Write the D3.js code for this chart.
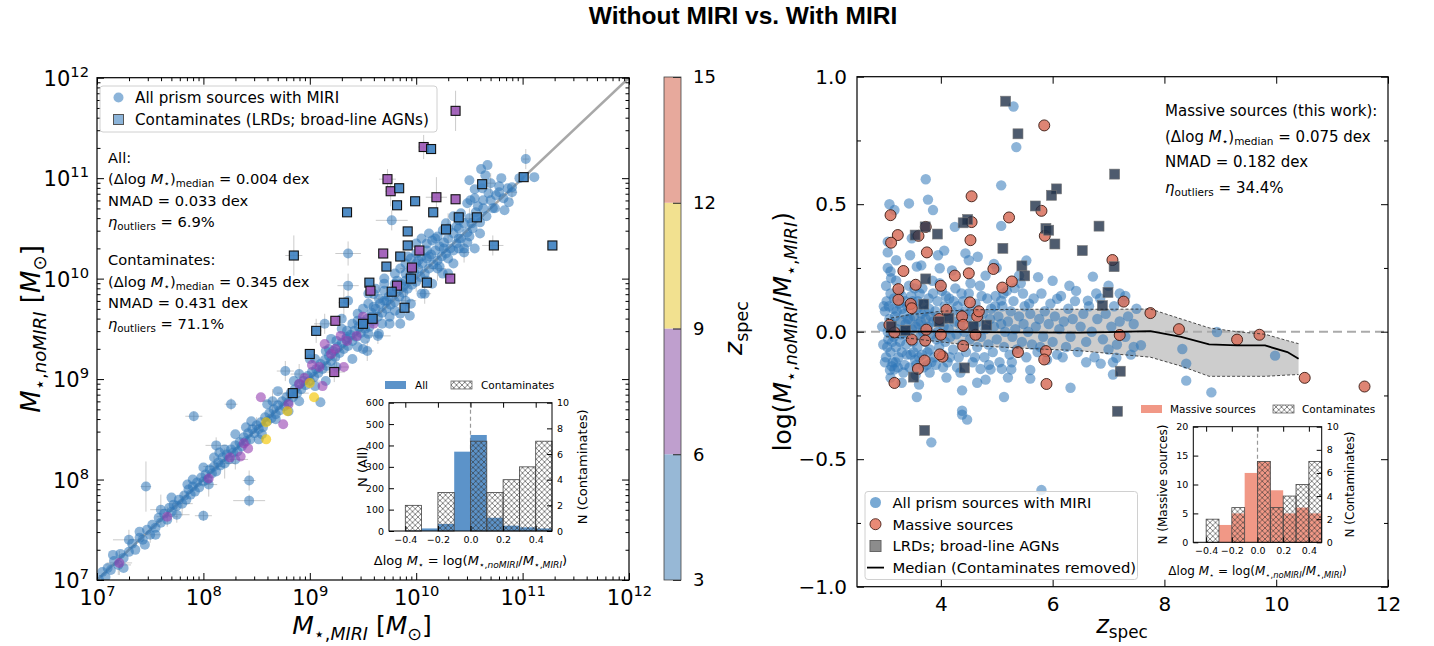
<!DOCTYPE html>
<html><head><meta charset="utf-8">
<script src="https://cdn.jsdelivr.net/npm/d3@7/dist/d3.min.js"></script>
<style>
body{margin:0;background:#fff;}
svg text{font-family:"DejaVu Sans",sans-serif;fill:#000;}
</style></head><body>
<svg id="chart" width="1434" height="646"></svg>
<script>
// ======================= DATA =======================
const titleText = "Without MIRI vs. With MIRI";
// Left panel: log10 stellar masses [log M_MIRI, log M_noMIRI]
const leftMajorTicks = [1e7, 1e8, 1e9, 1e10, 1e11, 1e12];
const leftBlue = [
[7.02,7.0],[7.05,7.08],[7.08,7.03],[7.1,7.12],[7.13,7.1],[7.16,7.19],[7.2,7.15],[7.22,7.26],[7.25,7.22],[7.3,7.28],
[7.33,7.36],[7.36,7.3],[7.4,7.42],[7.43,7.4],[7.47,7.5],[7.5,7.45],[7.52,7.55],[7.55,7.52],[7.58,7.62],[7.6,7.57],
[7.63,7.66],[7.66,7.6],[7.68,7.72],[7.7,7.68],[7.72,7.75],[7.75,7.74],[7.77,7.8],[7.8,7.76],[7.82,7.84],[7.84,7.8],
[7.86,7.9],[7.88,7.85],[7.9,7.93],[7.92,7.88],[7.94,7.97],[7.96,7.92],[7.98,8.02],[8.0,7.98],[8.02,8.05],[8.04,8.0],
[8.06,8.1],[8.08,8.06],[8.1,8.13],[8.12,8.08],[8.14,8.17],[8.16,8.14],[8.18,8.22],[8.2,8.16],[8.22,8.25],[8.24,8.2],
[8.26,8.3],[8.28,8.27],[8.3,8.34],[8.32,8.28],[8.34,8.37],[8.36,8.33],[8.38,8.42],[8.4,8.38],[8.42,8.46],[8.44,8.4],
[8.46,8.5],[8.48,8.46],[8.5,8.54],[8.52,8.5],[8.54,8.57],[8.56,8.52],[8.58,8.62],[8.6,8.58],[8.62,8.66],[8.64,8.61],
[8.66,8.7],[8.68,8.65],[8.7,8.74],[8.72,8.69],[8.74,8.78],[8.76,8.73],[8.78,8.82],[8.8,8.77],[8.82,8.86],[8.84,8.82],
[8.86,8.9],[8.88,8.86],[8.9,8.95],[8.92,8.9],[8.94,8.98],[8.96,8.94],[8.98,9.03],[9.0,8.98],[9.02,9.07],[9.04,9.02],
[9.06,9.1],[9.08,9.06],[9.1,9.15],[9.12,9.1],[9.14,9.19],[9.16,9.13],[9.18,9.23],[9.2,9.18],[9.22,9.28],[9.24,9.22],
[9.26,9.32],[9.28,9.26],[9.3,9.36],[9.32,9.3],[9.34,9.4],[9.36,9.33],[9.38,9.44],[9.4,9.38],[9.42,9.48],[9.44,9.42],
[9.46,9.52],[9.48,9.46],[9.5,9.57],[9.52,9.5],[9.54,9.6],[9.56,9.52],[9.58,9.66],[9.6,9.58],[9.62,9.7],[9.64,9.62],
[9.66,9.75],[9.68,9.66],[9.7,9.78],[9.72,9.7],[9.74,9.82],[9.76,9.74],[9.78,9.86],[9.8,9.77],[9.82,9.9],[9.84,9.82],
[9.86,9.95],[9.88,9.86],[9.9,9.98],[9.92,9.9],[9.94,10.02],[9.96,9.94],[9.98,10.06],[10.0,9.97],[10.02,10.1],[10.04,10.02],
[10.06,10.15],[10.08,10.05],[10.1,10.2],[10.12,10.1],[10.14,10.24],[10.16,10.14],[10.18,10.28],[10.2,10.18],[10.22,10.32],[10.24,10.22],
[10.26,10.36],[10.28,10.25],[10.3,10.4],[10.32,10.3],[10.35,10.45],[10.38,10.35],[10.4,10.5],[10.42,10.4],[10.45,10.55],[10.48,10.46],
[10.5,10.6],[10.53,10.5],[10.56,10.66],[10.6,10.56],[10.63,10.7],[10.66,10.62],[10.7,10.78],[10.74,10.7],[10.78,10.86],[10.82,10.8],
[10.86,10.9],[10.9,10.86],
[9.6,9.85],[9.7,9.95],[9.65,9.45],[9.75,9.55],[9.8,10.05],[9.85,9.65],[9.9,10.15],[9.95,9.75],[10.0,10.25],[10.05,9.85],
[10.1,10.35],[10.15,9.95],[10.2,10.42],[10.25,10.05],[10.3,10.5],[10.35,10.15],[10.4,10.58],[10.45,10.3],[10.5,10.42],[10.55,10.8],
[10.6,10.45],[9.55,9.75],[9.45,9.65],[9.4,9.2],[9.5,9.3],[9.3,9.5],[9.2,9.4],[9.85,10.1],[10.05,10.4],[10.12,10.45],
[10.0,10.35],[9.7,10.0],[9.3,9.6],[9.55,9.85],[9.85,9.55],[10.3,10.05],[10.55,10.3],[10.35,10.62],[10.48,10.75],[10.62,10.9],
[10.7,10.95],[10.8,11.0],[10.5,10.98],
[11.03,11.19],[11.11,11.01],[10.67,11.13],[10.61,11.09],[10.65,11.03],[10.75,10.83],[10.87,10.76],[10.83,10.68],[10.72,10.70],[10.90,10.91],
[10.97,11.0],[10.55,10.89],[10.51,10.78],[10.63,10.78],[9.77,10.58],[9.36,10.25],[9.36,9.93],[9.36,9.78],[10.45,10.26],[10.08,9.85],
[9.94,9.63],[9.64,9.43],[9.54,9.28],[9.14,9.55],[8.77,9.08],[8.26,8.75],[7.91,8.63],[8.12,8.34],[8.43,7.99],[7.46,7.93],
[8.43,7.79],[8.0,7.64],[9.10,8.77],[8.6,8.75],[8.3,8.45],[8.9,8.78],[9.0,9.2],[9.15,8.98],[8.7,8.88],[8.1,8.22],
[7.3,7.4],[7.45,7.35],[7.6,7.7],[7.75,7.65],[7.9,8.0],[8.05,7.95],[8.15,8.27],[8.3,8.2],[8.4,8.52],[8.55,8.45],
[8.65,8.78],[8.8,8.68],[8.9,9.05],[9.05,8.93],[9.15,9.28],[9.25,9.12],[9.35,9.48],[9.45,9.32],[9.55,9.45],[9.65,9.8],
[9.75,9.62],[9.9,9.78],[10.0,10.15],[10.1,9.98],[10.2,10.1],[10.3,10.2],[10.4,10.3],[10.1,10.28],[9.95,10.1],[9.8,9.95],
[10.25,10.48],[10.38,10.52],[10.15,10.38],[9.9,10.05],[9.6,9.72],[9.45,9.58],[9.25,9.38],[9.05,9.2],[8.85,8.98],[8.68,8.6],
[8.45,8.58],[8.52,8.4],[8.2,8.3],[8.0,8.12],[7.85,7.95],[7.7,7.82],[7.55,7.45],[7.4,7.48],[7.15,7.25],[7.25,7.12],
[9.7,9.88],[9.8,9.68],[9.95,10.2],[10.05,10.22],[10.18,10.4],[10.28,10.55],[10.42,10.65],[10.58,10.72],[10.68,10.85],[10.78,10.92],
[9.62,9.9],[9.5,9.7],[9.4,9.55],[9.52,9.4],[9.68,9.55],[9.82,9.98],[9.92,10.22],[10.22,10.12],[10.35,10.28],[10.48,10.36],
[9.58,9.62],[9.72,9.78],[9.88,9.92],[10.02,10.18],[10.12,10.22],[10.26,10.3],[10.4,10.4],[10.52,10.55],[9.35,9.42],[9.18,9.3]
];
const leftPurple = [
[8.54,8.82],[7.66,7.63],[7.21,7.17],[9.14,9.35],[9.29,9.43],[9.44,9.43],[9.24,9.30],[9.02,9.14],[8.95,9.01],[9.12,8.93],
[9.09,9.12],[8.75,8.55],[8.38,8.36],[8.42,8.31],[8.25,8.22],[8.35,8.23],[8.05,8.01],[9.32,9.12],[9.2,9.25],[9.35,9.38],
[8.9,8.95],[8.8,8.75],[9.5,9.62],[9.6,9.55]
];
const leftYellow = [[9.04,8.82],[9.0,8.96],[8.79,8.68],[8.59,8.57],[8.59,8.40]];
// contaminates: [log M_MIRI, log M_noMIRI, zbin] (0: z 3-6, 1: z 6-9)
const leftContam = [
[10.37,11.67,1],[10.07,11.31,1],[10.14,11.29,0],[9.73,10.99,1],[9.76,10.87,1],[9.84,10.90,0],[9.35,10.66,0],[9.82,10.73,0],
[9.99,10.77,0],[10.19,10.81,1],[10.37,10.79,1],[10.16,10.66,0],[10.40,10.61,0],[10.57,10.61,0],[10.62,10.94,0],[11.01,11.01,0],
[10.73,10.33,0],[11.28,10.33,0],[9.92,10.47,0],[10.28,10.49,0],[9.92,10.33,0],[10.03,10.28,1],[9.69,10.25,1],[9.85,10.22,0],
[8.85,10.23,0],[9.72,10.12,0],[9.96,10.11,1],[9.95,10.0,0],[10.32,10.0,1],[10.10,9.96,0],[9.82,9.93,1],[9.56,9.96,0],
[9.57,9.88,1],[9.77,9.87,0],[9.89,9.71,0],[9.32,9.76,0],[9.24,9.58,1],[9.59,9.60,0],[9.50,9.55,0],[9.06,9.48,0],
[9.00,9.25,0],[9.23,9.07,1],[8.84,8.86,0]
];
// error bars: [log x, log y, x err (dex), y err (dex)]
const leftErr = [
[10.37,11.67,0.03,0.2],[10.07,11.31,0.05,0.12],[9.73,10.99,0.08,0.1],[9.76,10.87,0.05,0.15],[8.85,10.23,0.08,0.2],
[9.36,10.25,0.12,0.12],[9.36,9.93,0.1,0.12],[9.77,10.58,0.15,0.1],[10.19,10.81,0.1,0.2],[7.46,7.93,0.05,0.25],
[7.91,8.63,0.08,0.05],[8.26,8.75,0.06,0.06],[8.43,7.79,0.15,0.06],[8.43,7.99,0.06,0.1],[8.12,8.34,0.1,0.08],
[8.0,7.64,0.08,0.05],[9.54,9.28,0.06,0.1],[9.64,9.43,0.12,0.08],[9.14,9.55,0.1,0.1],[8.77,9.08,0.08,0.1],
[7.2,7.15,0.12,0.1],[7.5,7.45,0.1,0.08],[7.8,7.76,0.1,0.12],[8.1,8.13,0.1,0.1],[8.5,8.54,0.08,0.08],
[8.2,8.16,0.1,0.15],[9.0,8.98,0.1,0.08],[9.5,9.57,0.08,0.1],[10.0,9.97,0.08,0.1],[10.5,10.6,0.05,0.1],
[10.45,10.26,0.05,0.1],[10.08,9.85,0.06,0.1],[8.84,8.86,0.15,0.05],[9.23,9.07,0.1,0.1],[11.03,11.19,0.03,0.1],
[10.72,10.33,0.1,0.1],[7.66,7.63,0.1,0.1],[7.21,7.17,0.12,0.12],[9.06,9.48,0.05,0.12],[9.32,9.76,0.05,0.15],
[7.3,7.4,0.15,0.1],[7.6,7.7,0.1,0.15],[7.75,7.65,0.12,0.08],[8.05,7.95,0.08,0.12],[8.3,8.2,0.12,0.1],
[8.65,8.78,0.1,0.12],[8.9,9.05,0.08,0.1],[9.25,9.12,0.12,0.1],[9.65,9.8,0.08,0.12],[9.9,9.78,0.1,0.1],
[10.2,10.1,0.08,0.12],[10.3,10.5,0.06,0.15],[9.95,10.1,0.1,0.1],[10.7,10.95,0.05,0.1],[10.9,10.86,0.05,0.08]
];
// colorbar (z_spec)
const cbEdges = [3, 6, 9, 12, 15];
const cbColors = ["#97b8d6", "#bf9fce", "#f2e190", "#e7a99c"];
const cbTicks = [3, 6, 9, 12, 15];

// Left inset histogram
const histEdges = [-0.4,-0.3,-0.2,-0.1,0.0,0.1,0.2,0.3,0.4,0.5];
const histAll = [2, 12, 33, 371, 449, 62, 25, 17, 12];
const histContam = [2, 0, 3, 0, 7, 3, 4, 5, 7];
const insetXTicks = [-0.4,-0.2,0.0,0.2,0.4];
const insetAllTicks = [0,100,200,300,400,500,600];
const insetContTicks = [0,2,4,6,8,10];
// Right inset histogram
const histMassive = [0, 3, 5, 12, 14, 9, 5, 6, 5];
const histContamR = [2, 0, 3, 0, 7, 3, 4, 5, 7];
const insetMassTicks = [0,5,10,15,20];

// Right panel: [z_spec, delta log M]
const rightXTicks = [4, 6, 8, 10, 12];
const rightYTicks = [-1.0, -0.5, 0.0, 0.5, 1.0];
const rightBlue = [
[2.95,0.02],[2.97,-0.05],[3.0,0.08],[3.02,-0.1],[3.03,0.12],[3.05,0.0],[3.06,-0.03],[3.08,0.05],[3.1,-0.08],[3.1,0.15],
[3.12,0.03],[3.14,-0.12],[3.15,0.09],[3.16,-0.02],[3.18,0.06],[3.2,-0.06],[3.2,0.2],[3.22,0.01],[3.24,-0.1],[3.25,0.11],
[3.27,-0.04],[3.28,0.04],[3.3,0.14],[3.3,-0.08],[3.32,0.0],[3.34,0.07],[3.35,-0.13],[3.37,0.03],[3.38,-0.05],[3.4,0.1],
[3.42,-0.02],[3.43,0.18],[3.45,0.05],[3.46,-0.09],[3.48,0.01],[3.5,0.12],[3.5,-0.04],[3.52,0.06],[3.54,-0.11],[3.55,0.02],
[3.57,0.09],[3.58,-0.06],[3.6,0.03],[3.62,0.15],[3.63,-0.02],[3.65,0.07],[3.66,-0.09],[3.68,0.0],[3.7,0.11],[3.72,-0.04],
[3.73,0.05],[3.75,-0.13],[3.77,0.02],[3.78,0.13],[3.8,-0.07],[3.82,0.06],[3.84,-0.01],[3.85,0.2],[3.87,0.04],[3.88,-0.1],
[3.9,0.08],[3.92,-0.03],[3.94,0.12],[3.95,0.0],[3.97,-0.06],[4.0,0.05],[4.02,0.16],[4.03,-0.09],[4.05,0.02],[4.07,0.1],
[4.08,-0.04],[4.1,0.06],[4.12,-0.12],[4.14,0.01],[4.15,0.13],[4.17,-0.02],[4.2,0.08],[4.22,-0.07],[4.24,0.04],[4.26,0.17],
[4.28,-0.01],[4.3,0.1],[4.32,-0.1],[4.34,0.03],[4.36,0.07],[4.38,-0.05],[4.4,0.12],[4.42,0.0],[4.45,-0.08],[4.47,0.05],
[4.5,0.15],[4.52,-0.03],[4.55,0.08],[4.57,-0.12],[4.6,0.02],[4.62,0.11],[4.65,-0.06],[4.68,0.04],[4.7,0.18],[4.72,-0.02],
[4.75,0.07],[4.78,-0.1],[4.8,0.01],[4.83,0.13],[4.85,-0.05],[4.88,0.05],[4.9,0.09],[4.93,-0.08],[4.95,0.02],[4.98,0.14],
[5.0,-0.03],[5.03,0.06],[5.05,-0.12],[5.08,0.03],[5.1,0.1],[5.13,-0.06],[5.15,0.0],[5.18,0.16],[5.2,0.04],[5.23,-0.09],
[5.25,0.08],[5.28,-0.02],[5.3,0.12],[5.33,0.01],[5.36,-0.07],[5.4,0.06],[5.43,0.19],[5.45,-0.04],[5.48,0.03],[5.5,0.1],
[5.53,-0.1],[5.56,0.0],[5.6,0.07],[5.63,-0.05],[5.66,0.13],[5.7,0.02],[5.73,-0.08],[5.76,0.05],[5.8,0.15],[5.83,-0.02],
[5.86,0.08],[5.9,-0.11],[5.93,0.03],[5.96,0.11],[6.0,-0.04],[6.04,0.06],[6.08,-0.09],[6.12,0.01],[6.15,0.14],[6.2,0.04],
[6.24,-0.06],[6.28,0.09],[6.32,-0.02],[6.36,0.05],[6.4,0.12],[6.45,-0.08],[6.5,0.02],[6.55,0.07],[6.6,-0.04],[6.65,0.1],
[6.7,0.0],[6.75,-0.1],[6.8,0.05],[6.85,0.13],[6.9,-0.03],[6.95,0.07],[7.0,-0.07],[7.05,0.02],[7.1,0.1],[7.15,-0.05],
[7.2,0.04],[7.25,0.12],[7.3,-0.02],[7.35,0.06],[7.4,-0.09],[7.45,0.03],[7.5,0.09],
[3.05,0.25],[3.1,-0.18],[3.2,0.28],[3.3,-0.2],[3.45,0.3],[3.55,-0.17],[3.65,0.26],[3.8,-0.16],[3.95,0.3],[4.1,-0.18],
[4.2,0.24],[4.35,-0.16],[4.5,0.28],[4.65,-0.2],[4.8,0.22],[5.0,0.25],[5.2,-0.18],[5.4,0.22],[5.6,-0.15],[6.0,0.2],
[6.3,0.18],[6.6,-0.12],[7.0,0.18],[7.2,0.15],
[2.98,0.1],[3.0,-0.12],[3.02,0.18],[3.04,-0.06],[3.07,0.1],[3.09,-0.15],[3.11,0.21],[3.13,-0.04],[3.16,0.13],[3.19,-0.12],
[3.21,0.08],[3.23,-0.14],[3.26,0.16],[3.29,-0.01],[3.31,0.09],[3.33,-0.16],[3.36,0.12],[3.39,-0.09],[3.41,0.05],[3.44,-0.14],
[3.47,0.14],[3.51,-0.08],[3.53,0.17],[3.56,-0.13],[3.59,0.12],[3.61,-0.1],[3.64,0.04],[3.67,0.17],[3.69,-0.14],[3.71,0.08],
[3.76,-0.08],[3.79,0.09],[3.83,-0.12],[3.86,0.15],[3.91,-0.13],[3.93,0.04],[3.98,0.19],[4.04,-0.14],[4.09,0.14],[4.16,-0.1],
[4.23,0.12],[4.29,-0.14],[4.37,0.15],[4.44,0.08],[4.53,0.19],[4.61,-0.1],[4.73,0.14],[4.86,-0.13],[4.97,0.1],[5.12,0.15],
[5.27,-0.12],[5.47,0.15],[5.58,0.11],[5.78,-0.06],[6.18,-0.1],[6.42,0.16],[6.78,0.15],[7.08,-0.12],
[5.30,0.883],[5.35,0.724],[3.73,0.598],[5.08,0.574],[3.08,0.50],[3.43,0.503],[3.17,0.477],[3.77,0.518],[3.86,0.477],[4.25,0.411],
[5.08,0.415],[3.05,0.353],[3.05,0.311],[4.06,0.318],[4.44,0.307],[4.66,0.294],[3.48,0.366],[4.95,0.266],[5.53,0.279],[6.72,0.216],
[5.74,0.214],[3.10,0.236],[3.98,0.249],[3.57,0.255],[5.32,0.171],[6.08,0.129],[6.63,0.122],[5.08,0.122],[7.58,-0.053],[8.32,-0.068],
[8.94,-0.001],[9.98,-0.094],[8.39,-0.125],[8.39,-0.192],[8.84,-0.238],[6.32,-0.220],[5.13,-0.256],[4.38,-0.230],[4.38,-0.310],[4.38,-0.325],
[4.47,-0.345],[3.57,-0.256],[3.83,-0.434],[5.80,-0.621],[5.60,-0.184],[6.86,-0.125],[7.14,-0.102],[7.08,-0.168],[3.12,-0.135],[3.17,-0.148],
[3.61,-0.207],[4.71,-0.146],[4.89,-0.148],[5.09,-0.146],[5.26,-0.148],[4.80,-0.188],[7.3,0.14],[7.45,-0.06]
];
const rightMassive = [
[5.85,0.809],[4.55,0.531],[3.10,0.457],[5.22,0.448],[5.80,0.474],[4.55,0.430],[3.73,0.411],[3.23,0.379],[3.60,0.376],[3.11,0.349],
[4.53,0.359],[5.86,0.376],[3.75,0.311],[7.07,0.281],[3.33,0.238],[4.25,0.220],[4.50,0.229],[4.94,0.246],[5.27,0.197],[5.10,0.173],
[3.55,0.184],[4.0,0.18],[3.24,0.167],[3.24,0.125],[3.46,0.109],[3.48,0.092],[4.52,0.115],[7.27,0.118],[7.75,0.073],[8.26,0.01],
[9.30,-0.031],[9.70,-0.012],[7.20,-0.013],[4.10,0.086],[3.97,0.05],[4.38,0.06],[4.65,0.06],[4.68,0.08],[4.40,0.027],[3.08,0.027],
[3.17,-0.003],[3.74,0.008],[4.0,-0.012],[4.62,-0.012],[3.48,-0.031],[3.72,-0.035],[4.40,-0.056],[5.38,-0.080],[5.88,-0.076],[5.85,-0.109],
[3.71,-0.113],[4.03,-0.098],[3.98,-0.089],[3.59,-0.146],[3.17,-0.201],[5.89,-0.205],[10.51,-0.181],[11.58,-0.215]
];
const rightContam = [
[5.16,0.904],[5.38,0.776],[7.11,0.618],[6.07,0.560],[5.98,0.535],[5.69,0.493],[6.83,0.414],[4.48,0.44],[4.40,0.427],[3.72,0.411],
[3.94,0.383],[3.54,0.379],[5.88,0.405],[5.93,0.398],[6.04,0.344],[5.11,0.327],[6.53,0.318],[5.45,0.258],[5.50,0.219],[7.10,0.255],
[3.73,0.207],[6.99,0.154],[3.69,0.108],[6.89,0.102],[4.14,0.053],[4.82,0.026],[4.58,0.021],[3.37,0.005],[3.11,0.021],[3.97,0.04],
[4.42,-0.142],[3.51,-0.178],[7.21,-0.155],[7.16,-0.312],[3.71,-0.387]
];
// running median (contaminates removed) and 16-84 band
const medZ    = [3.02, 3.4, 4.0, 4.6, 5.5, 6.5, 7.0, 7.75, 8.3, 8.8, 9.3, 9.8, 10.2, 10.4];
const medVal  = [0.0, 0.0, 0.0, -0.002, -0.003, -0.004, -0.002, 0.002, -0.02, -0.05, -0.054, -0.054, -0.08, -0.106];
const medHigh = [0.05, 0.065, 0.08, 0.086, 0.088, 0.088, 0.088, 0.089, 0.05, 0.015, 0.0, -0.01, -0.035, -0.047];
const medLow  = [-0.02, -0.025, -0.04, -0.055, -0.065, -0.075, -0.085, -0.10, -0.135, -0.175, -0.175, -0.175, -0.17, -0.168];

// ======================= DRAWING =======================
const svg = d3.select("#chart");
const FONT = "DejaVu Sans";
const defs = svg.append("defs");

function rich(sel, parts, fs) {
  let cur = 0;
  parts.forEach(([t, k]) => {
    const sub = k.includes("sub"), sup = k.includes("sup");
    const target = sub ? fs * 0.22 : sup ? -fs * 0.42 : 0;
    sel.append("tspan").attr("dy", (target - cur).toFixed(2))
      .attr("font-size", (sub || sup) ? fs * 0.7 : fs)
      .attr("font-style", k.startsWith("i") ? "italic" : "normal")
      .text(t);
    cur = target;
  });
  return sel;
}

// hatch pattern
const hp = defs.append("pattern").attr("id", "hatch").attr("patternUnits", "userSpaceOnUse")
  .attr("width", 5.5).attr("height", 5.5);
hp.append("path").attr("d", "M0,0L5.5,5.5M0,5.5L5.5,0M-1,1L1,-1M4.5,6.5L6.5,4.5M-1,4.5L1,6.5M4.5,-1L6.5,1")
  .attr("stroke", "#333").attr("stroke-width", 0.6).attr("fill", "none");

// Title
svg.append("text").attr("x", 743).attr("y", 24).attr("text-anchor", "middle")
  .style("font-family", "Liberation Sans, Arial, sans-serif").attr("font-weight", "bold").attr("font-size", 24.5)
  .text(titleText);

// ---------- LEFT PANEL ----------
const L = {x0: 97, x1: 629, y0: 77.7, y1: 580};
const xL = d3.scaleLog().domain([1e7, 1e12]).range([L.x0, L.x1]);
const yL = d3.scaleLog().domain([1e7, 1e12]).range([L.y1, L.y0]);
const gL = svg.append("g");
defs.append("clipPath").attr("id", "clipL").append("rect")
  .attr("x", L.x0).attr("y", L.y0).attr("width", L.x1 - L.x0).attr("height", L.y1 - L.y0);
const pL = gL.append("g").attr("clip-path", "url(#clipL)");

// 1:1 line
pL.append("line").attr("x1", xL(1e7)).attr("y1", yL(1e7)).attr("x2", xL(1e12)).attr("y2", yL(1e12))
  .attr("stroke", "#a8a8a8").attr("stroke-width", 2.5);

// error bars
const eg = pL.append("g").attr("stroke", "#a0a0a0").attr("stroke-opacity", 0.55).attr("stroke-width", 1);
leftErr.forEach(([x, y, ex, ey]) => {
  eg.append("line").attr("x1", xL(10 ** (x - ex))).attr("x2", xL(10 ** (x + ex))).attr("y1", yL(10 ** y)).attr("y2", yL(10 ** y));
  eg.append("line").attr("x1", xL(10 ** x)).attr("x2", xL(10 ** x)).attr("y1", yL(10 ** (y - ey))).attr("y2", yL(10 ** (y + ey)));
});

const cBlue = "#2f77b8", cPurple = "#9440b0", cYellow = "#f2c400";
function dotsL(data, color, op) {
  pL.append("g").selectAll("circle").data(data).join("circle")
    .attr("cx", d => xL(10 ** d[0])).attr("cy", d => yL(10 ** d[1])).attr("r", 5)
    .attr("fill", color).attr("fill-opacity", op);
}
dotsL(leftBlue, cBlue, 0.55);
dotsL(leftPurple, cPurple, 0.6);
dotsL(leftYellow, cYellow, 0.65);
pL.append("g").selectAll("rect").data(leftContam).join("rect")
  .attr("x", d => xL(10 ** d[0]) - 4.5).attr("y", d => yL(10 ** d[1]) - 4.5).attr("width", 9).attr("height", 9)
  .attr("fill", d => d[2] === 1 ? "#9b55b5" : "#3c80c0").attr("fill-opacity", 0.9)
  .attr("stroke", "#111").attr("stroke-width", 1.1);

// axes (ticks inward, all sides)
function logAxes(g, xs, ys, box) {
  const minorX = xs.ticks().filter(v => !leftMajorTicks.includes(v));
  const minorY = ys.ticks().filter(v => !leftMajorTicks.includes(v));
  const fmt = () => "";
  const ab = g.append("g").attr("transform", `translate(0,${box.y1})`)
    .call(d3.axisBottom(xs).tickValues(leftMajorTicks).tickSize(-7).tickPadding(9));
  g.append("g").attr("transform", `translate(0,${box.y1})`).call(d3.axisBottom(xs).tickValues(minorX).tickSize(-3.5).tickFormat(fmt));
  g.append("g").attr("transform", `translate(0,${box.y0})`).call(d3.axisTop(xs).tickValues(leftMajorTicks).tickSize(-7).tickFormat(fmt));
  g.append("g").attr("transform", `translate(0,${box.y0})`).call(d3.axisTop(xs).tickValues(minorX).tickSize(-3.5).tickFormat(fmt));
  const al = g.append("g").attr("transform", `translate(${box.x0},0)`)
    .call(d3.axisLeft(ys).tickValues(leftMajorTicks).tickSize(-7).tickPadding(9));
  g.append("g").attr("transform", `translate(${box.x0},0)`).call(d3.axisLeft(ys).tickValues(minorY).tickSize(-3.5).tickFormat(fmt));
  g.append("g").attr("transform", `translate(${box.x1},0)`).call(d3.axisRight(ys).tickValues(leftMajorTicks).tickSize(-7).tickFormat(fmt));
  g.append("g").attr("transform", `translate(${box.x1},0)`).call(d3.axisRight(ys).tickValues(minorY).tickSize(-3.5).tickFormat(fmt));
  ab.selectAll(".tick text").attr("dy", null).attr("y", 25);
  al.selectAll(".tick text").attr("dy", null).attr("y", 7.5).attr("x", -8);
  [ab, al].forEach(a => {
    a.selectAll(".tick text").text("").attr("font-family", FONT).each(function (d) {
      rich(d3.select(this), [["10", "n"], [String(Math.round(Math.log10(d))), "sup"]], 21);
    });
  });
  g.selectAll(".domain").remove();
  g.selectAll(".tick line").attr("stroke", "#000").attr("stroke-width", 1);
  g.append("rect").attr("x", box.x0).attr("y", box.y0).attr("width", box.x1 - box.x0).attr("height", box.y1 - box.y0)
    .attr("fill", "none").attr("stroke", "#000").attr("stroke-width", 1.2);
}
logAxes(gL, xL, yL, L);

// left legend
const lg = gL.append("g");
lg.append("rect").attr("x", 100).attr("y", 86).attr("width", 337).attr("height", 46).attr("rx", 3)
  .attr("fill", "#fff").attr("fill-opacity", 0.8).attr("stroke", "#d0d0d0");
lg.append("circle").attr("cx", 118.5).attr("cy", 97.5).attr("r", 5).attr("fill", "#8cb4d9");
lg.append("rect").attr("x", 113.5).attr("y", 114.5).attr("width", 10).attr("height", 10).attr("fill", "#8cb4d9").attr("stroke", "#555");
lg.append("text").attr("x", 135).attr("y", 102.8).attr("font-size", 15.2).text("All prism sources with MIRI");
lg.append("text").attr("x", 135).attr("y", 124.8).attr("font-size", 15.2).text("Contaminates (LRDs; broad-line AGNs)");

// left stats
const statLines = [
  [157.5, [["All:", "n"]]],
  [179, [["(Δlog ", "n"], ["M", "i"], ["⋆", "sub"], [")", "n"], ["median", "sub"], [" = 0.004 dex", "n"]]],
  [200.5, [["NMAD = 0.033 dex", "n"]]],
  [222, [["η", "i"], ["outliers", "sub"], [" = 6.9%", "n"]]],
  [260, [["Contaminates:", "n"]]],
  [281.5, [["(Δlog ", "n"], ["M", "i"], ["⋆", "sub"], [")", "n"], ["median", "sub"], [" = 0.345 dex", "n"]]],
  [302.5, [["NMAD = 0.431 dex", "n"]]],
  [324, [["η", "i"], ["outliers", "sub"], [" = 71.1%", "n"]]]
];
statLines.forEach(([y, parts]) => {
  rich(gL.append("text").attr("x", 108).attr("y", y + 5).attr("font-size", 14.7), parts, 14.7);
});

// axis labels left
rich(svg.append("text").attr("x", 362).attr("y", 634).attr("text-anchor", "middle").attr("font-size", 25),
  [["M", "i"], ["⋆,", "sub"], ["MIRI", "isub"], [" [", "n"], ["M", "i"], ["⊙", "sub"], ["]", "n"]], 25);
rich(svg.append("text").attr("transform", "translate(40,329) rotate(-90)").attr("text-anchor", "middle").attr("font-size", 26),
  [["M", "i"], ["⋆,", "sub"], ["noMIRI", "isub"], [" [", "n"], ["M", "i"], ["⊙", "sub"], ["]", "n"]], 26);

// ---------- INSET helper ----------
function drawInset(opt) {
  const g = svg.append("g");
  const x = d3.scaleLinear().domain([-0.5, 0.5]).range([opt.x0, opt.x1]);
  const yA = d3.scaleLinear().domain(opt.yAdom).range([opt.y1, opt.y0]);
  const yB = d3.scaleLinear().domain([0, 10]).range([opt.y1, opt.y0]);
  g.append("rect").attr("x", opt.x0).attr("y", opt.y0).attr("width", opt.x1 - opt.x0).attr("height", opt.y1 - opt.y0).attr("fill", "#fff");
  g.append("line").attr("x1", x(0)).attr("x2", x(0)).attr("y1", opt.y0).attr("y2", opt.y1)
    .attr("stroke", "#999").attr("stroke-dasharray", "4,3").attr("stroke-width", 1.2);
  g.append("g").selectAll("rect").data(opt.hA).join("rect")
    .attr("x", (d, i) => x(histEdges[i])).attr("width", (d, i) => x(histEdges[i + 1]) - x(histEdges[i]))
    .attr("y", d => yA(d)).attr("height", d => yA(0) - yA(d))
    .attr("fill", opt.colA).attr("fill-opacity", opt.opA);
  g.append("g").selectAll("rect").data(opt.hB).join("rect")
    .attr("x", (d, i) => x(histEdges[i])).attr("width", (d, i) => x(histEdges[i + 1]) - x(histEdges[i]))
    .attr("y", d => yB(d)).attr("height", d => yB(0) - yB(d))
    .attr("fill", "url(#hatch)").attr("stroke", d => d > 0 ? "#444" : "none").attr("stroke-width", 0.8);
  const fs = opt.tickFs;
  g.append("g").attr("transform", `translate(0,${opt.y1})`)
    .call(d3.axisBottom(x).tickValues(insetXTicks).tickSize(-5).tickPadding(5).tickFormat(d3.format(".1f")));
  g.append("g").attr("transform", `translate(0,${opt.y0})`)
    .call(d3.axisTop(x).tickValues(insetXTicks).tickSize(-5).tickFormat(() => ""));
  g.append("g").attr("transform", `translate(${opt.x0},0)`)
    .call(d3.axisLeft(yA).tickValues(opt.yAticks).tickSize(-5).tickPadding(5));
  g.append("g").attr("transform", `translate(${opt.x1},0)`)
    .call(d3.axisRight(yB).tickValues(insetContTicks).tickSize(-5).tickPadding(5));
  g.selectAll(".domain").remove();
  g.selectAll(".tick text").attr("font-size", fs).attr("font-family", FONT);
  g.selectAll(".tick line").attr("stroke", "#000");
  g.append("rect").attr("x", opt.x0).attr("y", opt.y0).attr("width", opt.x1 - opt.x0).attr("height", opt.y1 - opt.y0)
    .attr("fill", "none").attr("stroke", "#000").attr("stroke-width", 1);
  g.append("text").attr("transform", `translate(${opt.lyX},${(opt.y0 + opt.y1) / 2}) rotate(-90)`)
    .attr("text-anchor", "middle").attr("font-size", opt.labFs).text(opt.labA);
  g.append("text").attr("transform", `translate(${opt.ryX},${(opt.y0 + opt.y1) / 2}) rotate(-90)`)
    .attr("text-anchor", "middle").attr("font-size", opt.labFs).text("N (Contaminates)");
  rich(g.append("text").attr("x", x(0)).attr("y", opt.xlY).attr("text-anchor", "middle").attr("font-size", opt.labFs),
    [["Δlog ", "n"], ["M", "i"], ["⋆", "sub"], [" = log(", "n"], ["M", "i"], ["⋆,", "sub"], ["noMIRI", "isub"],
     ["/", "n"], ["M", "i"], ["⋆,", "sub"], ["MIRI", "isub"], [")", "n"]], opt.labFs);
  const lgY = opt.legY;
  g.append("rect").attr("x", opt.leg[0]).attr("y", lgY - 4).attr("width", 21).attr("height", 8)
    .attr("fill", opt.colA).attr("fill-opacity", opt.opA);
  g.append("text").attr("x", opt.leg[1]).attr("y", lgY + 3.8).attr("font-size", 10.5).text(opt.legA);
  g.append("rect").attr("x", opt.leg[2]).attr("y", lgY - 4).attr("width", 21).attr("height", 8)
    .attr("fill", "url(#hatch)").attr("stroke", "#555").attr("stroke-width", 0.7);
  g.append("text").attr("x", opt.leg[3]).attr("y", lgY + 3.8).attr("font-size", 10.5).text("Contaminates");
}

// ---------- COLORBAR ----------
const yC = d3.scaleLinear().domain([3, 15]).range([580, 77]);
const gC = svg.append("g");
gC.selectAll("rect.band").data(cbColors).join("rect").attr("class", "band")
  .attr("x", 664).attr("width", 17).attr("y", (d, i) => yC(cbEdges[i + 1])).attr("height", (d, i) => yC(cbEdges[i]) - yC(cbEdges[i + 1]))
  .attr("fill", d => d);
const cax = gC.append("g").attr("transform", "translate(681,0)")
  .call(d3.axisRight(yC).tickValues(cbTicks).tickSize(-8).tickPadding(12));
cax.select(".domain").remove();
cax.selectAll(".tick text").attr("font-size", 18).attr("font-family", FONT);
cax.selectAll(".tick line").attr("stroke", "#222");
gC.append("rect").attr("x", 664).attr("y", 77).attr("width", 17).attr("height", 503).attr("fill", "none").attr("stroke", "#444").attr("stroke-width", 0.8);
rich(svg.append("text").attr("transform", "translate(742,328) rotate(-90)").attr("text-anchor", "middle").attr("font-size", 25),
  [["z", "i"], ["spec", "sub"]], 25);

// ---------- RIGHT PANEL ----------
const R = {x0: 857, x1: 1388, y0: 76.7, y1: 586.7};
const xR = d3.scaleLinear().domain([2.5, 12]).range([R.x0, R.x1]);
const yR = d3.scaleLinear().domain([-1, 1]).range([R.y1, R.y0]);
const gR = svg.append("g");
defs.append("clipPath").attr("id", "clipR").append("rect")
  .attr("x", R.x0).attr("y", R.y0).attr("width", R.x1 - R.x0).attr("height", R.y1 - R.y0);
const pR = gR.append("g").attr("clip-path", "url(#clipR)");

const bandData = medZ.map((z, i) => ({z, lo: medLow[i], hi: medHigh[i], m: medVal[i]}));
pR.append("path").datum(bandData)
  .attr("d", d3.area().x(d => xR(d.z)).y0(d => yR(d.lo)).y1(d => yR(d.hi)))
  .attr("fill", "#c4c4c4").attr("fill-opacity", 0.85);
pR.append("line").attr("x1", R.x0).attr("x2", R.x1).attr("y1", yR(0)).attr("y2", yR(0))
  .attr("stroke", "#aaa").attr("stroke-width", 2).attr("stroke-dasharray", "9,5");
pR.append("g").selectAll("circle").data(rightBlue).join("circle")
  .attr("cx", d => xR(d[0])).attr("cy", d => yR(d[1])).attr("r", 5.2)
  .attr("fill", cBlue).attr("fill-opacity", 0.55);
pR.append("g").selectAll("circle").data(rightMassive).join("circle")
  .attr("cx", d => xR(d[0])).attr("cy", d => yR(d[1])).attr("r", 5.5)
  .attr("fill", "#d8705c").attr("fill-opacity", 0.85).attr("stroke", "#3a1a12").attr("stroke-width", 0.9);
pR.append("g").selectAll("rect").data(rightContam).join("rect")
  .attr("x", d => xR(d[0]) - 5).attr("y", d => yR(d[1]) - 5).attr("width", 10).attr("height", 10)
  .attr("fill", "#22324a").attr("fill-opacity", 0.8).attr("stroke", "#777").attr("stroke-width", 0.6);
pR.append("path").datum(bandData).attr("d", d3.line().x(d => xR(d.z)).y(d => yR(d.hi)))
  .attr("fill", "none").attr("stroke", "#222").attr("stroke-width", 0.8).attr("stroke-dasharray", "3,2");
pR.append("path").datum(bandData).attr("d", d3.line().x(d => xR(d.z)).y(d => yR(d.lo)))
  .attr("fill", "none").attr("stroke", "#222").attr("stroke-width", 0.8).attr("stroke-dasharray", "3,2");
pR.append("path").datum(bandData).attr("d", d3.line().x(d => xR(d.z)).y(d => yR(d.m)))
  .attr("fill", "none").attr("stroke", "#000").attr("stroke-width", 1.8);

// right axes
const minorYR = d3.range(-0.75, 1, 0.5);
const axR = [
  gR.append("g").attr("transform", `translate(0,${R.y1})`).call(d3.axisBottom(xR).tickValues(rightXTicks).tickSize(-7).tickPadding(10).tickFormat(d3.format("d"))),
  gR.append("g").attr("transform", `translate(${R.x0},0)`).call(d3.axisLeft(yR).tickValues(rightYTicks).tickSize(-7).tickPadding(10).tickFormat(d3.format(".1f")))
];
gR.append("g").attr("transform", `translate(0,${R.y0})`).call(d3.axisTop(xR).tickValues(rightXTicks).tickSize(-7).tickFormat(() => ""));
gR.append("g").attr("transform", `translate(${R.x1},0)`).call(d3.axisRight(yR).tickValues(rightYTicks).tickSize(-7).tickFormat(() => ""));
gR.append("g").attr("transform", `translate(${R.x0},0)`).call(d3.axisLeft(yR).tickValues(minorYR).tickSize(-4).tickFormat(() => ""));
gR.append("g").attr("transform", `translate(${R.x1},0)`).call(d3.axisRight(yR).tickValues(minorYR).tickSize(-4).tickFormat(() => ""));
gR.selectAll(".domain").remove();
gR.selectAll(".tick line").attr("stroke", "#000");
axR.forEach(a => a.selectAll(".tick text").attr("font-size", 20).attr("font-family", FONT));
gR.append("rect").attr("x", R.x0).attr("y", R.y0).attr("width", R.x1 - R.x0).attr("height", R.y1 - R.y0)
  .attr("fill", "none").attr("stroke", "#000").attr("stroke-width", 1.2);

// right stats text
const rStats = [
  [111, [["Massive sources (this work):", "n"]]],
  [136.5, [["(Δlog ", "n"], ["M", "i"], ["⋆", "sub"], [")", "n"], ["median", "sub"], [" = 0.075 dex", "n"]]],
  [162, [["NMAD = 0.182 dex", "n"]]],
  [188, [["η", "i"], ["outliers", "sub"], [" = 34.4%", "n"]]]
];
rStats.forEach(([y, parts]) => rich(gR.append("text").attr("x", 1165).attr("y", y + 5).attr("font-size", 15), parts, 15));

// right legend
const rl = gR.append("g");
rl.append("rect").attr("x", 865).attr("y", 491.5).attr("width", 272.5).attr("height", 88).attr("rx", 3)
  .attr("fill", "#fff").attr("fill-opacity", 0.8).attr("stroke", "#d0d0d0");
rl.append("circle").attr("cx", 875.5).attr("cy", 502.5).attr("r", 5.5).attr("fill", "#78a9d4");
rl.append("circle").attr("cx", 875.5).attr("cy", 524.2).attr("r", 5.5).attr("fill", "#e98a76").attr("stroke", "#4a2018").attr("stroke-width", 0.9);
rl.append("rect").attr("x", 870).attr("y", 540.5).attr("width", 11).attr("height", 11).attr("fill", "#8c8c8c").attr("stroke", "#666");
rl.append("line").attr("x1", 867).attr("x2", 884).attr("y1", 567.6).attr("y2", 567.6).attr("stroke", "#000").attr("stroke-width", 1.8);
["All prism sources with MIRI", "Massive sources", "LRDs; broad-line AGNs", "Median (Contaminates removed)"].forEach((t, i) => {
  rl.append("text").attr("x", 892.5).attr("y", [502.5, 524.2, 545.9, 567.6][i] + 5.3).attr("font-size", 14.8).text(t);
});

// right axis labels
rich(svg.append("text").attr("x", 1122).attr("y", 633).attr("text-anchor", "middle").attr("font-size", 24),
  [["z", "i"], ["spec", "sub"]], 24);
rich(svg.append("text").attr("transform", "translate(791,331.7) rotate(-90)").attr("text-anchor", "middle").attr("font-size", 25),
  [["log(", "n"], ["M", "i"], ["⋆,", "sub"], ["noMIRI", "isub"], ["/", "n"], ["M", "i"], ["⋆,", "sub"], ["MIRI", "isub"], [")", "n"]], 25);

// insets (drawn last, on top)
drawInset({x0: 389, x1: 552, y0: 402.7, y1: 531, yAdom: [0, 600], yAticks: insetAllTicks,
  hA: histAll, hB: histContam, colA: "#3f80c0", opA: 0.85, tickFs: 9.5, labFs: 13,
  labA: "N (All)", lyX: 367, ryX: 587, xlY: 565, legY: 385, leg: [385, 415, 451, 481], legA: "All"});
drawInset({x0: 1193.3, x1: 1321.7, y0: 426.7, y1: 542.3, yAdom: [0, 20], yAticks: insetMassTicks,
  hA: histMassive, hB: histContamR, colA: "#ef8671", opA: 0.85, tickFs: 9.5, labFs: 12,
  labA: "N (Massive sources)", lyX: 1167, ryX: 1354, xlY: 575, legY: 409, leg: [1141, 1170, 1273, 1302], legA: "Massive sources"});
</script>
</body></html>
